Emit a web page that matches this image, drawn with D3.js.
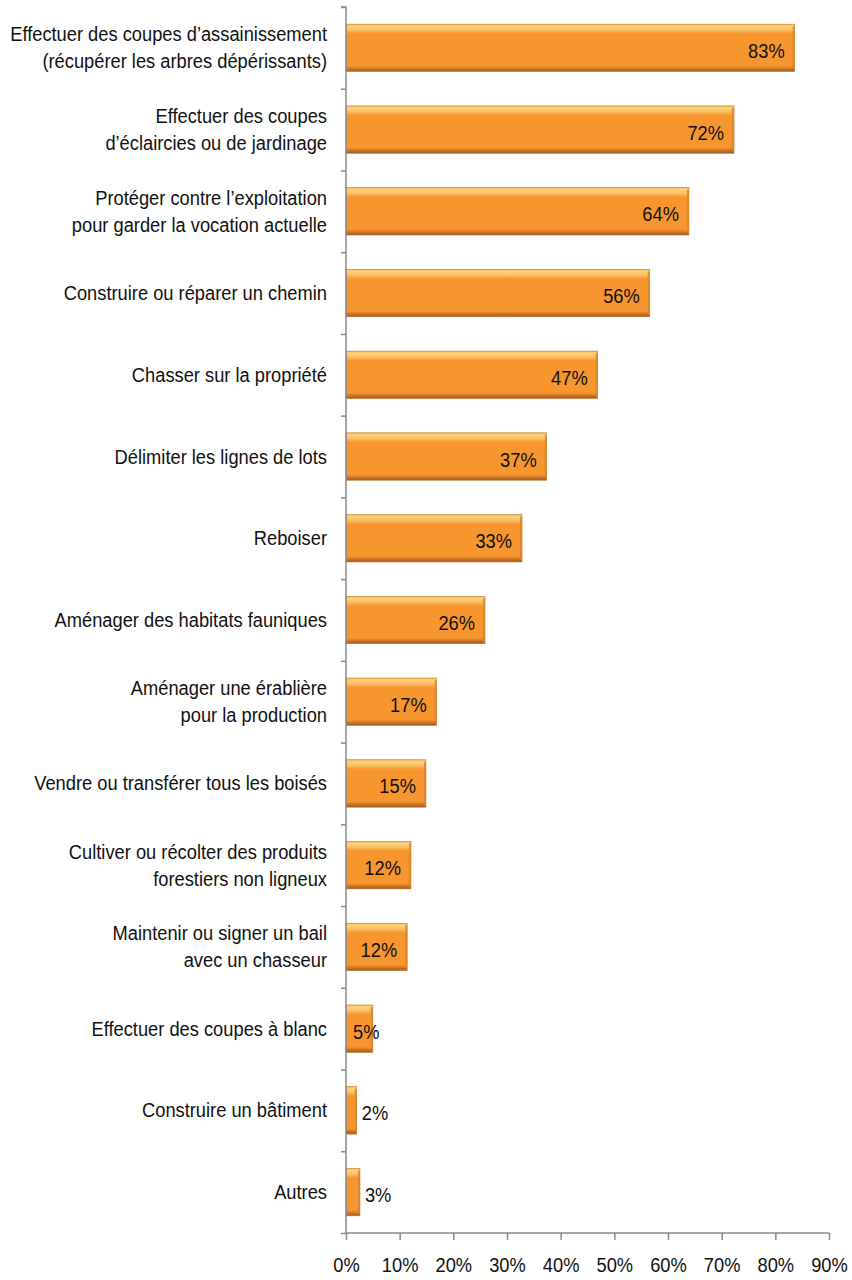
<!DOCTYPE html>
<html>
<head>
<meta charset="utf-8">
<script src="https://cdn.jsdelivr.net/npm/d3@7"></script>
<style>
  body { margin: 0; background: #fff; }
  text { font-family: 'Liberation Sans', Arial, sans-serif; fill: #111; }
</style>
</head>
<body>
<div id="chart"></div>
<script>
const categories = [
  ['Effectuer des coupes d\u2019assainissement', '(récupérer les arbres dépérissants)'],
  ['Effectuer des coupes', 'd\u2019éclaircies ou de jardinage'],
  ['Protéger contre l\u2019exploitation', 'pour garder la vocation actuelle'],
  ['Construire ou réparer un chemin'],
  ['Chasser sur la propriété'],
  ['Délimiter les lignes de lots'],
  ['Reboiser'],
  ['Aménager des habitats fauniques'],
  ['Aménager une érablière', 'pour la production'],
  ['Vendre ou transférer tous les boisés'],
  ['Cultiver ou récolter des produits', 'forestiers non ligneux'],
  ['Maintenir ou signer un bail', 'avec un chasseur'],
  ['Effectuer des coupes à blanc'],
  ['Construire un bâtiment'],
  ['Autres']
];
const values = [83.6, 72.3, 63.9, 56.6, 46.9, 37.4, 32.8, 25.9, 16.9, 14.9, 12.1, 11.4, 5.0, 2.0, 2.6];
const valueLabels = ['83%', '72%', '64%', '56%', '47%', '37%', '33%', '26%', '17%', '15%', '12%', '12%', '5%', '2%', '3%'];
const xTicks = [0, 10, 20, 30, 40, 50, 60, 70, 80, 90];

const margin = { top: 7, right: 23, bottom: 47, left: 346 };
const width = 852 - margin.left - margin.right;
const height = 1280 - margin.top - margin.bottom;
const fs = 20;

const svg = d3.select('#chart')
  .append('svg')
  .attr('width', 852)
  .attr('height', 1280);

// horizontal squeeze so the regular font looks like the narrow one in the original
const probe = svg.append('text').style('font-size', fs + 'px').text(categories[0][0]);
const k = 317 / probe.node().getComputedTextLength();
probe.remove();

// bar gradient (Excel-ish bevel look)
const defs = svg.append('defs');
const grad = defs.append('linearGradient')
  .attr('id', 'barGrad')
  .attr('x1', 0).attr('y1', 0).attr('x2', 0).attr('y2', 1);
[
  [0, '#f9b24a'], [0.04, '#fdd27c'], [0.12, '#fbc066'], [0.2, '#f7962f'],
  [0.88, '#f7962f'], [0.93, '#d27a2a'], [1, '#9c5a22']
].forEach(([o, c]) => grad.append('stop').attr('offset', o).attr('stop-color', c));

const g = svg.append('g')
  .attr('transform', `translate(${margin.left},${margin.top})`);

const x = d3.scaleLinear().domain([0, 90]).range([0, width]);
const y = d3.scaleBand()
  .domain(d3.range(categories.length))
  .range([0, height])
  .paddingInner(0.42)
  .paddingOuter(0.21);

// bars
g.selectAll('rect.bar')
  .data(values)
  .enter().append('rect')
  .attr('class', 'bar')
  .attr('x', x(0))
  .attr('y', (d, i) => y(i))
  .attr('width', (d) => x(d) - x(0))
  .attr('height', y.bandwidth())
  .attr('fill', 'url(#barGrad)')
  .attr('stroke', '#c9772a')
  .attr('stroke-width', 0.6);

// darker right edge
g.selectAll('rect.edge')
  .data(values)
  .enter().append('rect')
  .attr('class', 'edge')
  .attr('x', (d) => x(d) - 2)
  .attr('y', (d, i) => y(i) + 2)
  .attr('width', 2)
  .attr('height', y.bandwidth() - 4)
  .attr('fill', '#d9822c')
  .attr('opacity', 0.8);

// value labels
values.forEach((d, i) => {
  const wrap = g.append('g');
  const t = wrap.append('text')
    .attr('y', y(i) + y.bandwidth() / 2 + 3)
    .attr('dy', '0.35em')
    .style('font-size', fs + 'px')
    .text(valueLabels[i]);
  const tw = t.node().getComputedTextLength() * k;
  const end = x(d);
  let ax;
  if (end - x(0) < tw) {
    ax = end + 5;
    t.attr('text-anchor', 'start');
  } else {
    ax = Math.max(end - 10, x(0) + 7 + tw);
    t.attr('text-anchor', 'end');
  }
  wrap.attr('transform', `translate(${ax},0) scale(${k},1)`);
});

// category labels
const lineH = 27;
categories.forEach((lines, i) => {
  const cy = margin.top + y(i) + y.bandwidth() / 2;
  const t = svg.append('g')
    .attr('transform', `translate(327,0) scale(${k},1)`)
    .append('text')
    .attr('text-anchor', 'end')
    .style('font-size', fs + 'px');
  lines.forEach((ln, j) => {
    t.append('tspan')
      .attr('x', 0)
      .attr('y', cy + (j - (lines.length - 1) / 2) * lineH)
      .attr('dy', '0.35em')
      .text(ln);
  });
});

// left axis with ticks on band boundaries
const yEdge = d3.scaleLinear().domain([0, categories.length]).range([0, height]);
const yAxis = g.append('g')
  .call(d3.axisLeft(yEdge).tickValues(d3.range(categories.length + 1)).tickSize(5).tickFormat(''));
yAxis.selectAll('line, path').attr('stroke', '#8a8a8a').attr('stroke-width', 1.5);
yAxis.select('.domain').attr('d', `M-5,0H0V${height}`);

// bottom axis
const xAxis = g.append('g')
  .attr('transform', `translate(0,${height})`)
  .call(d3.axisBottom(x).tickValues(xTicks).tickSize(7).tickPadding(9).tickFormat(''));
xAxis.selectAll('line, path').attr('stroke', '#8a8a8a').attr('stroke-width', 1.5);
xAxis.select('.domain').attr('d', `M0,0H${width}`);
xAxis.selectAll('.tick').each(function (d) {
  d3.select(this).append('g')
    .attr('transform', `translate(0,39) scale(${k},1)`)
    .append('text')
    .attr('text-anchor', 'middle')
    .attr('fill', '#111')
    .style('font-size', fs + 'px')
    .style('font-family', "'Liberation Sans', Arial, sans-serif")
    .text(d + '%');
});
</script>
</body>
</html>
